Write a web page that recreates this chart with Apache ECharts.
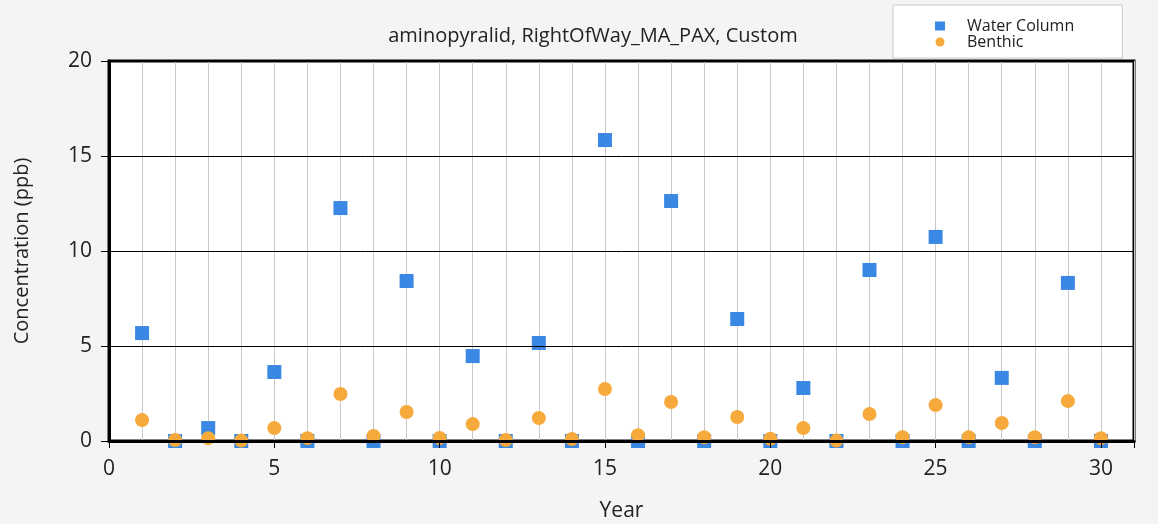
<!DOCTYPE html>
<html>
<head>
<meta charset="utf-8">
<script src="https://cdn.jsdelivr.net/npm/echarts@6/dist/echarts.min.js"></script>
<style>html,body{margin:0;padding:0;background:#f4f4f4;}#c{width:1158px;height:524px;}</style>
</head>
<body>
<div id="c"></div>
<script>
var years = [1,2,3,4,5,6,7,8,9,10,11,12,13,14,15,16,17,18,19,20,21,22,23,24,25,26,27,28,29,30];
var waterColumn = [5.68,0,0.68,0,3.63,0,12.26,0,8.42,0,4.47,0,5.16,0,15.84,0,12.63,0,6.42,0,2.79,0,9.0,0,10.74,0,3.32,0,8.32,0];
var benthic = [1.1,0.05,0.15,0.02,0.68,0.15,2.47,0.26,1.53,0.16,0.89,0.05,1.21,0.1,2.74,0.3,2.05,0.2,1.26,0.12,0.68,0.02,1.42,0.2,1.89,0.2,0.95,0.2,2.1,0.15];
var yTicks = [0,5,10,15,20];
var xTickLabels = [0,5,10,15,20,25,30];

var chart = echarts.init(document.getElementById('c'));
var font = '"Open Sans", "Noto Sans", sans-serif';
function pairs(xs, ys){ return xs.map(function(x,i){ return [x, ys[i]]; }); }
chart.setOption({
  backgroundColor: '#f4f4f4',
  animation: false,
  textStyle: { fontFamily: font },
  title: {
    text: 'aminopyralid, RightOfWay_MA_PAX, Custom',
    left: 588, top: 21, textAlign: 'center',
    textStyle: { fontSize: 20, fontWeight: 'normal', color: '#222', fontFamily: font }
  },
  legend: {
    orient: 'vertical', left: 893, top: 5,
    padding: [13, 48, 8, 42],
    backgroundColor: '#ffffff', borderColor: '#c8c8c8', borderWidth: 1,
    itemWidth: 10, itemHeight: 9, itemGap: 0,
    textStyle: { fontSize: 16, lineHeight: 15, color: '#222', fontFamily: font, padding: [0,0,0,17] },
    data: [{ name: 'Water Column', icon: 'rect' }, { name: 'Benthic', icon: 'circle' }]
  },
  grid: {
    left: 109, right: 24, top: 61, bottom: 83,
    outerBoundsMode: 'none', containLabel: false,
    show: true, backgroundColor: '#ffffff', borderColor: '#000', borderWidth: 3
  },
  xAxis: [{
    type: 'value', min: 0, max: 31, interval: 1,
    axisLine: { show: false }, axisTick: { show: false }, axisLabel: { show: false },
    splitLine: { show: true, lineStyle: { color: '#c8c8c8', width: 1 } }
  }, {
    type: 'value', min: 0, max: 31, interval: 5, position: 'bottom',
    name: 'Year', nameLocation: 'middle', nameGap: 60,
    nameTextStyle: { fontSize: 21, color: '#222', fontFamily: font },
    z: 10,
    axisLine: { show: true, onZero: false, lineStyle: { color: '#000', width: 3 } },
    axisTick: { show: true, inside: false, length: 7, lineStyle: { color: '#000', width: 1 } },
    axisLabel: { fontSize: 21, color: '#222', margin: 18, fontFamily: font,
      formatter: function(v){ return xTickLabels.indexOf(v) >= 0 ? String(v) : ''; } },
    splitLine: { show: false }
  }],
  yAxis: {
    type: 'value', min: 0, max: 20, interval: 5,
    name: 'Concentration (ppb)', nameLocation: 'middle', nameGap: 77,
    nameTextStyle: { fontSize: 20, color: '#222', fontFamily: font },
    z: 10,
    axisLine: { show: true, onZero: false, lineStyle: { color: '#000', width: 3 } },
    axisTick: { show: true, inside: false, length: 8, lineStyle: { color: '#000', width: 1 } },
    axisLabel: { fontSize: 21, color: '#222', margin: 17, fontFamily: font,
      formatter: function(v){ return yTicks.indexOf(v) >= 0 ? String(v) : ''; } },
    splitLine: { show: true, lineStyle: { color: '#000', width: 1 } }
  },
  series: [{
    name: 'Water Column', type: 'scatter', xAxisIndex: 1, symbol: 'rect', symbolSize: 14,
    clip: false, z: 3,
    itemStyle: { color: '#3b88e4', opacity: 1 },
    data: pairs(years, waterColumn)
  }, {
    name: 'Benthic', type: 'scatter', xAxisIndex: 1, symbol: 'circle', symbolSize: 14,
    clip: false, z: 4,
    itemStyle: { color: '#f7aa3c', opacity: 1 },
    data: pairs(years, benthic)
  }]
});
</script>
</body>
</html>
